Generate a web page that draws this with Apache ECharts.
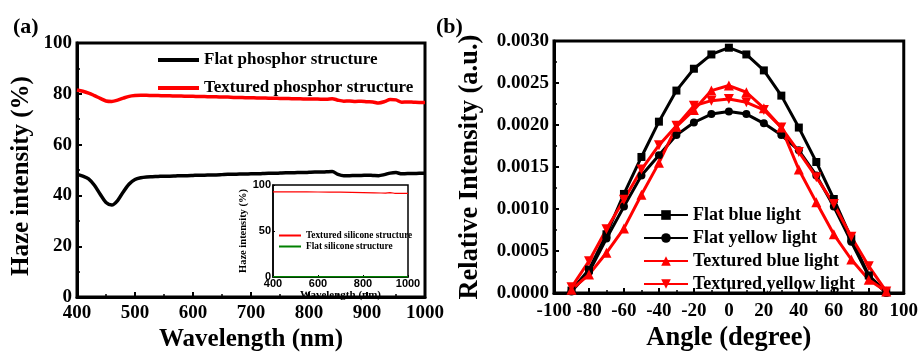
<!DOCTYPE html>
<html><head><meta charset="utf-8">
<script src="https://cdn.jsdelivr.net/npm/echarts@6/dist/echarts.min.js"></script>
<style>html,body{margin:0;padding:0;background:#fff}#c{width:921px;height:357px}</style>
</head><body><div id="c"></div>
<script>
// Panel (a): haze spectra
const wavelengths = [400,410,420,430,440,450,460,470,480,490,500,510,520,530,540,550,560,570,580,590,600,610,620,630,640,650,660,670,680,690,700,710,720,730,740,750,760,770,780,790,800,810,820,830,840,850,860,870,880,890,900,910,920,930,940,950,960,970,980,990,1000];
const flatPhosphor = [48.3,47.6,46.5,44.0,40.5,37.2,36.2,38.0,41.5,44.5,46.3,47.0,47.3,47.4,47.5,47.6,47.6,47.7,47.8,47.8,47.9,48.0,48.0,48.1,48.1,48.2,48.3,48.3,48.4,48.4,48.5,48.5,48.6,48.7,48.7,48.8,48.9,48.9,49.0,49.0,49.1,49.2,49.2,49.3,49.4,48.3,47.8,47.8,47.9,47.9,48.0,47.9,47.8,48.2,48.8,49.0,48.5,48.6,48.6,48.7,48.7];
const texturedPhosphor = [81.5,81.0,80.3,79.3,78.2,77.2,77.0,77.5,78.3,79.0,79.3,79.4,79.4,79.3,79.3,79.2,79.2,79.1,79.1,79.0,79.0,78.9,78.9,78.8,78.8,78.7,78.7,78.6,78.6,78.5,78.5,78.4,78.4,78.3,78.3,78.2,78.2,78.1,78.1,78.0,78.0,78.0,77.9,77.9,78.1,77.5,77.1,77.2,77.0,77.1,76.9,76.8,76.4,76.9,77.8,77.6,76.7,76.8,76.7,76.6,76.6];
// Inset
const insetWavelengths = [400,450,500,550,600,650,700,750,800,850,880,900,920,940,960,1000];
const texturedSilicone = [92.6,92.6,92.5,92.5,92.4,92.3,92.2,92.0,91.8,91.5,91.3,91.2,91.8,91.0,91.0,90.8];
const flatSilicone = [0.4,0.4,0.4,0.4,0.4,0.4,0.4,0.4,0.4,0.4,0.4,0.4,0.4,0.4,0.4,0.4];
// Panel (b): angular distribution
const angles = [-90,-80,-70,-60,-50,-40,-30,-20,-10,0,10,20,30,40,50,60,70,80,90];
const flatBlue = [0.00003,0.00028,0.00070,0.00118,0.00162,0.00204,0.00241,0.00267,0.00284,0.00292,0.00284,0.00265,0.00235,0.00197,0.00156,0.00112,0.00065,0.00021,0.00001];
const flatYellow = [0.00002,0.00025,0.00065,0.00103,0.00140,0.00164,0.00188,0.00203,0.00213,0.00216,0.00213,0.00202,0.00188,0.00170,0.00140,0.00103,0.00061,0.00020,0.00000];
const texturedBlue = [0.00004,0.00022,0.00048,0.00077,0.00117,0.00155,0.00198,0.00218,0.00241,0.00247,0.00239,0.00220,0.00197,0.00147,0.00108,0.00070,0.00040,0.00016,0.00002];
const texturedYellow = [0.00007,0.00038,0.00076,0.00111,0.00147,0.00176,0.00199,0.00223,0.00229,0.00231,0.00227,0.00218,0.00197,0.00168,0.00138,0.00106,0.00067,0.00032,0.00002];

const zip = (xs, ys) => xs.map((x, i) => [x, ys[i]]);
const SERIF = '"Liberation Serif","Times New Roman",serif';
const SANS = '"Liberation Sans",Arial,sans-serif';
const plain = v => String(v);

function boxAxis(extra) {
  return Object.assign({
    axisLine: {show: true, onZero: false, lineStyle: {color: '#000', width: 3}},
    axisTick: {show: true, inside: true, length: 5, lineStyle: {color: '#000', width: 2}},
    minorTick: {show: true, splitNumber: 2, length: 3, lineStyle: {color: '#000', width: 1.5}},
    splitLine: {show: false},
    axisLabel: {color: '#000', fontFamily: SERIF, fontWeight: 'bold', fontSize: 19},
    nameTextStyle: {color: '#000', fontFamily: SERIF, fontWeight: 'bold', fontSize: 25}
  }, extra);
}

const chart = echarts.init(document.getElementById('c'));
chart.setOption({
  animation: false,
  backgroundColor: '#fff',
  title: [
    {text: '(a)', left: 8, top: 11, textStyle: {fontFamily: SERIF, fontWeight: 'bold', fontSize: 22, color: '#000'}},
    {text: '(b)', left: 431, top: 11, textStyle: {fontFamily: SERIF, fontWeight: 'bold', fontSize: 22, color: '#000'}}
  ],
  grid: [
    {left: 77, top: 43, width: 348, height: 259, show: true, borderColor: '#000', borderWidth: 3, backgroundColor: 'transparent'},
    {left: 554, top: 41, width: 350, height: 258, show: true, borderColor: '#000', borderWidth: 3, backgroundColor: 'transparent'},
    {left: 273, top: 185, width: 135, height: 92, show: true, borderColor: '#000', borderWidth: 1.5, backgroundColor: '#fff', z: 5}
  ],
  legend: [
    {data: ['Flat phosphor structure', 'Textured phosphor structure'], orient: 'vertical', left: 153, top: 46,
     icon: 'rect', itemWidth: 41, itemHeight: 4, itemGap: 10,
     textStyle: {fontFamily: SERIF, fontWeight: 'bold', fontSize: 17, color: '#000', lineHeight: 18}},
    {data: ['Textured silicone structure', 'Flat silicone structure'], orient: 'vertical', left: 274, top: 226,
     icon: 'rect', itemWidth: 22, itemHeight: 2, itemGap: 2, z: 10,
     textStyle: {fontFamily: SERIF, fontWeight: 'bold', fontSize: 9.3, color: '#000', lineHeight: 9}},
    {data: ['Flat blue light', 'Flat yellow light', 'Textured blue light', 'Textured yellow light'], orient: 'vertical', left: 638, top: 201,
     itemWidth: 44, itemHeight: 12, itemGap: 5,
     textStyle: {fontFamily: SERIF, fontWeight: 'bold', fontSize: 18, color: '#000'}}
  ],
  xAxis: [
    boxAxis({gridIndex: 0, type: 'value', min: 400, max: 1000, interval: 100, name: 'Wavelength (nm)', nameLocation: 'middle', nameGap: 24,
      axisLabel: {color: '#000', fontFamily: SERIF, fontWeight: 'bold', fontSize: 19, margin: 6, formatter: plain}}),
    boxAxis({gridIndex: 1, type: 'value', min: -100, max: 100, interval: 20, name: 'Angle (degree)', nameLocation: 'middle', nameGap: 27,
      axisLabel: {color: '#000', fontFamily: SERIF, fontWeight: 'bold', fontSize: 19, margin: 8, formatter: plain},
      nameTextStyle: {color: '#000', fontFamily: SERIF, fontWeight: 'bold', fontSize: 26.5}}),
    {gridIndex: 2, type: 'value', min: 400, max: 1000, interval: 200, name: 'Wavelength (nm)', nameLocation: 'middle', nameGap: 13, z: 6,
      axisLine: {show: true, onZero: false, lineStyle: {color: '#000', width: 1.5}},
      axisTick: {show: true, inside: true, length: 2, lineStyle: {color: '#000'}},
      splitLine: {show: false},
      axisLabel: {color: '#000', fontFamily: SANS, fontWeight: 'bold', fontSize: 11, margin: 1, formatter: plain},
      nameTextStyle: {color: '#000', fontFamily: SERIF, fontWeight: 'bold', fontSize: 11}}
  ],
  yAxis: [
    boxAxis({gridIndex: 0, type: 'value', min: 0, max: 100, interval: 20, name: 'Haze intensity (%)', nameLocation: 'middle', nameGap: 43,
      axisLabel: {color: '#000', fontFamily: SERIF, fontWeight: 'bold', fontSize: 19, margin: 5},
      nameTextStyle: {color: '#000', fontFamily: SERIF, fontWeight: 'bold', fontSize: 25, padding: [0, 12, 0, 0]}}),
    boxAxis({gridIndex: 1, type: 'value', min: 0, max: 0.003, interval: 0.0005, name: 'Relative Intensity (a.u.)', nameLocation: 'middle', nameGap: 70,
      axisLabel: {color: '#000', fontFamily: SERIF, fontWeight: 'bold', fontSize: 19, margin: 5, formatter: v => v.toFixed(4)},
      nameTextStyle: {color: '#000', fontFamily: SERIF, fontWeight: 'bold', fontSize: 26.5}}),
    {gridIndex: 2, type: 'value', min: 0, max: 100, interval: 50, name: 'Haze intensity (%)', nameLocation: 'middle', nameGap: 23, z: 6,
      axisLine: {show: true, onZero: false, lineStyle: {color: '#000', width: 1.5}},
      axisTick: {show: true, inside: true, length: 2, lineStyle: {color: '#000'}},
      splitLine: {show: false},
      axisLabel: {color: '#000', fontFamily: SANS, fontWeight: 'bold', fontSize: 11, margin: 2},
      nameTextStyle: {color: '#000', fontFamily: SERIF, fontWeight: 'bold', fontSize: 10.5}}
  ],
  series: [
    {name: 'Flat phosphor structure', type: 'line', xAxisIndex: 0, yAxisIndex: 0, data: zip(wavelengths, flatPhosphor), symbol: 'none', smooth: 0.3,
     lineStyle: {color: '#000', width: 3.5}, itemStyle: {color: '#000'}},
    {name: 'Textured phosphor structure', type: 'line', xAxisIndex: 0, yAxisIndex: 0, data: zip(wavelengths, texturedPhosphor), symbol: 'none', smooth: 0.3,
     lineStyle: {color: '#ff0000', width: 3.5}, itemStyle: {color: '#ff0000'}},
    {name: 'Textured silicone structure', type: 'line', xAxisIndex: 2, yAxisIndex: 2, data: zip(insetWavelengths, texturedSilicone), symbol: 'none', z: 7,
     lineStyle: {color: '#ff0000', width: 1.2}, itemStyle: {color: '#ff0000'}},
    {name: 'Flat silicone structure', type: 'line', xAxisIndex: 2, yAxisIndex: 2, data: zip(insetWavelengths, flatSilicone), symbol: 'none', z: 7,
     lineStyle: {color: '#008000', width: 1.5}, itemStyle: {color: '#008000'}},
    {name: 'Flat blue light', type: 'line', xAxisIndex: 1, yAxisIndex: 1, data: zip(angles, flatBlue), symbol: 'rect', symbolSize: 8,
     lineStyle: {color: '#000', width: 3}, itemStyle: {color: '#000'}},
    {name: 'Flat yellow light', type: 'line', xAxisIndex: 1, yAxisIndex: 1, data: zip(angles, flatYellow), symbol: 'circle', symbolSize: 8,
     lineStyle: {color: '#000', width: 3}, itemStyle: {color: '#000'}},
    {name: 'Textured blue light', type: 'line', xAxisIndex: 1, yAxisIndex: 1, data: zip(angles, texturedBlue), symbol: 'triangle', symbolSize: 10,
     lineStyle: {color: '#ff0000', width: 3}, itemStyle: {color: '#ff0000'}},
    {name: 'Textured yellow light', type: 'line', xAxisIndex: 1, yAxisIndex: 1, data: zip(angles, texturedYellow), symbol: 'triangle', symbolRotate: 180, symbolSize: 10,
     lineStyle: {color: '#ff0000', width: 3}, itemStyle: {color: '#ff0000'}}
  ]
});
</script></body></html>
